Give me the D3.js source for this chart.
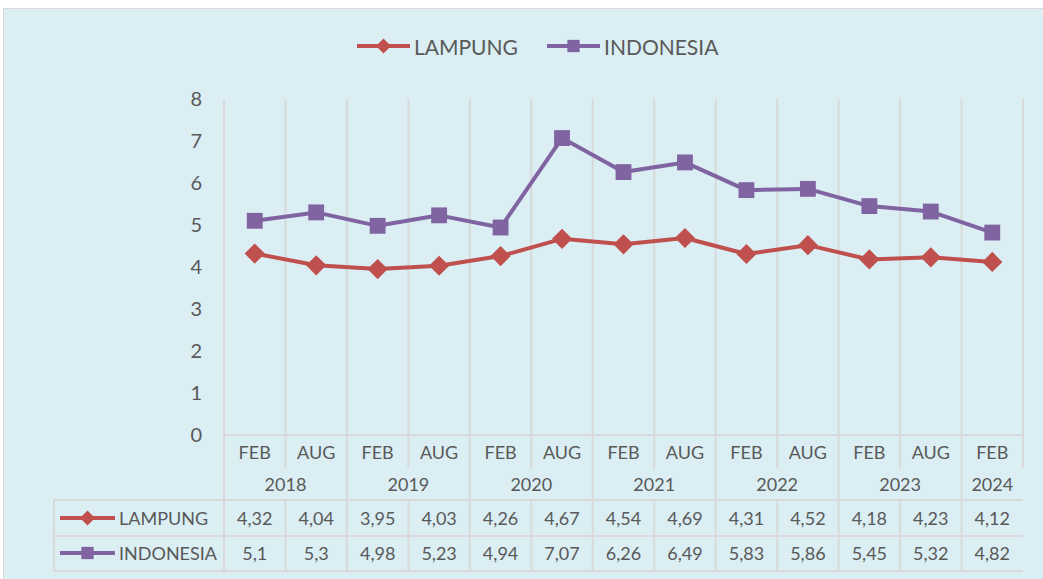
<!DOCTYPE html>
<html>
<head>
<meta charset="utf-8">
<script src="https://cdn.jsdelivr.net/npm/d3@7"></script>
<style>
  body { margin: 0; background: #fff; }
  text { font-family: Lato, "Open Sans", sans-serif; fill: #595959; }
</style>
</head>
<body>
<div id="chart"></div>
<script>
// chart data
var periods = ["FEB", "AUG", "FEB", "AUG", "FEB", "AUG", "FEB", "AUG", "FEB", "AUG", "FEB", "AUG", "FEB"];
var years = ["2018", "2019", "2020", "2021", "2022", "2023", "2024"];
var lampung = [4.32, 4.04, 3.95, 4.03, 4.26, 4.67, 4.54, 4.69, 4.31, 4.52, 4.18, 4.23, 4.12];
var indonesia = [5.1, 5.3, 4.98, 5.23, 4.94, 7.07, 6.26, 6.49, 5.83, 5.86, 5.45, 5.32, 4.82];
var yTicks = [0, 1, 2, 3, 4, 5, 6, 7, 8];

var series = [
  { name: "LAMPUNG", values: lampung, color: "#C0504D", marker: "diamond" },
  { name: "INDONESIA", values: indonesia, color: "#8064A2", marker: "square" }
];

var width = 1043, height = 579;
var plotLeft = 224, plotRight = 1023, plotTop = 99, plotBottom = 435;
var tableLeft = 54;
var periodRowY = 452, yearRowY = 484;
var rowLines = [500, 536, 571];
var gridColor = "#D9D9D9";

var svg = d3.select("#chart").append("svg")
  .attr("width", width)
  .attr("height", height);

// background
svg.append("rect")
  .attr("x", 3.5).attr("y", 8.5)
  .attr("width", width).attr("height", height - 8)
  .attr("fill", "#DAEEF3")
  .attr("stroke", "#D9D9D9");

var x = d3.scaleBand()
  .domain(d3.range(periods.length))
  .range([plotLeft, plotRight]);

var y = d3.scaleLinear()
  .domain([0, 8])
  .range([plotBottom, plotTop]);

function markerPath(type, size) {
  if (type == "diamond") return d3.symbol().type(d3.symbolDiamond2).size(size * 1.3)();
  return d3.symbol().type(d3.symbolSquare2).size(size * 1.6)();
}

// vertical grid / table lines
var grid = svg.append("g").attr("stroke", gridColor).attr("stroke-width", 2);
for (var i = 0; i <= periods.length; i++) {
  var xx = i < periods.length ? x(i) : plotRight;
  // year boundaries go down through the table
  var yearEdge = (i % 2 == 0);
  grid.append("line")
    .attr("x1", xx).attr("x2", xx)
    .attr("y1", plotTop)
    .attr("y2", yearEdge ? rowLines[2] : plotBottom + 33);
}
grid.append("line")
  .attr("x1", plotLeft).attr("x2", plotRight)
  .attr("y1", plotBottom).attr("y2", plotBottom);
rowLines.forEach(function (ly) {
  grid.append("line")
    .attr("x1", tableLeft).attr("x2", plotRight)
    .attr("y1", ly).attr("y2", ly);
});
grid.append("line")
  .attr("x1", tableLeft).attr("x2", tableLeft)
  .attr("y1", rowLines[0]).attr("y2", rowLines[2]);
for (var i = 1; i < periods.length; i++) {
  if (i % 2 == 0) continue;
  grid.append("line")
    .attr("x1", x(i)).attr("x2", x(i))
    .attr("y1", rowLines[0]).attr("y2", rowLines[2]);
}

// y axis
var yAxis = svg.append("g")
  .attr("transform", "translate(" + (plotLeft - 22) + ",0)")
  .call(d3.axisLeft(y).tickValues(yTicks).tickSize(0).tickPadding(0));
yAxis.select(".domain").remove();
yAxis.selectAll("text")
  .style("font-size", "20px")
  .style("font-family", "Lato, sans-serif")
  .attr("fill", "#595959");

// period and year labels
svg.append("g").selectAll("text")
  .data(periods)
  .enter()
  .append("text")
  .attr("x", function (d, i) { return x(i) + x.bandwidth() / 2; })
  .attr("y", periodRowY)
  .attr("text-anchor", "middle")
  .attr("dominant-baseline", "central")
  .style("font-size", "18px")
  .text(function (d) { return d; });

svg.append("g").selectAll("text")
  .data(years)
  .enter()
  .append("text")
  .attr("x", function (d, i) {
    var a = x(i * 2);
    var b = (i * 2 + 2 <= periods.length - 1) ? x(i * 2 + 2) : plotRight;
    return (a + b) / 2;
  })
  .attr("y", yearRowY)
  .attr("text-anchor", "middle")
  .attr("dominant-baseline", "central")
  .style("font-size", "18px")
  .text(function (d) { return d; });

// lines and markers
var line = d3.line()
  .x(function (d, i) { return x(i) + x.bandwidth() / 2; })
  .y(function (d) { return y(d); });

series.forEach(function (s) {
  svg.append("path")
    .datum(s.values)
    .attr("d", line)
    .attr("fill", "none")
    .attr("stroke", s.color)
    .attr("stroke-width", 4)
    .attr("stroke-linejoin", "round");

  svg.append("g").selectAll("path")
    .data(s.values)
    .enter()
    .append("path")
    .attr("d", markerPath(s.marker, 200))
    .attr("transform", function (d, i) {
      return "translate(" + (x(i) + x.bandwidth() / 2) + "," + y(d) + ")";
    })
    .attr("fill", s.color);
});

// legend key helper
function drawKey(g, s, x0, len, fontSize) {
  g.append("line")
    .attr("x1", x0).attr("x2", x0 + len)
    .attr("y1", 0).attr("y2", 0)
    .attr("stroke", s.color)
    .attr("stroke-width", 4);
  g.append("path")
    .attr("d", markerPath(s.marker, s.marker == "diamond" ? 110 : 120))
    .attr("transform", "translate(" + (x0 + len / 2) + ",0)")
    .attr("fill", s.color);
  g.append("text")
    .attr("x", x0 + len + 4)
    .attr("y", 0)
    .attr("dominant-baseline", "central")
    .style("font-size", fontSize + "px")
    .text(s.name);
}

// top legend
var legendX = [357, 547];
series.forEach(function (s, i) {
  var g = svg.append("g").attr("transform", "translate(0,46)");
  drawKey(g, s, legendX[i], 53, 21);
});

// data table rows
var rowY = [518, 553];
series.forEach(function (s, r) {
  var g = svg.append("g").attr("transform", "translate(0," + rowY[r] + ")");
  drawKey(g, s, 60, 55, 18);
  g.selectAll("text.val")
    .data(s.values)
    .enter()
    .append("text")
    .attr("class", "val")
    .attr("x", function (d, i) { return x(i) + x.bandwidth() / 2; })
    .attr("y", 0)
    .attr("text-anchor", "middle")
    .attr("dominant-baseline", "central")
    .style("font-size", "18px")
    .text(function (d) { return String(d).replace(".", ","); });
});
</script>
</body>
</html>
